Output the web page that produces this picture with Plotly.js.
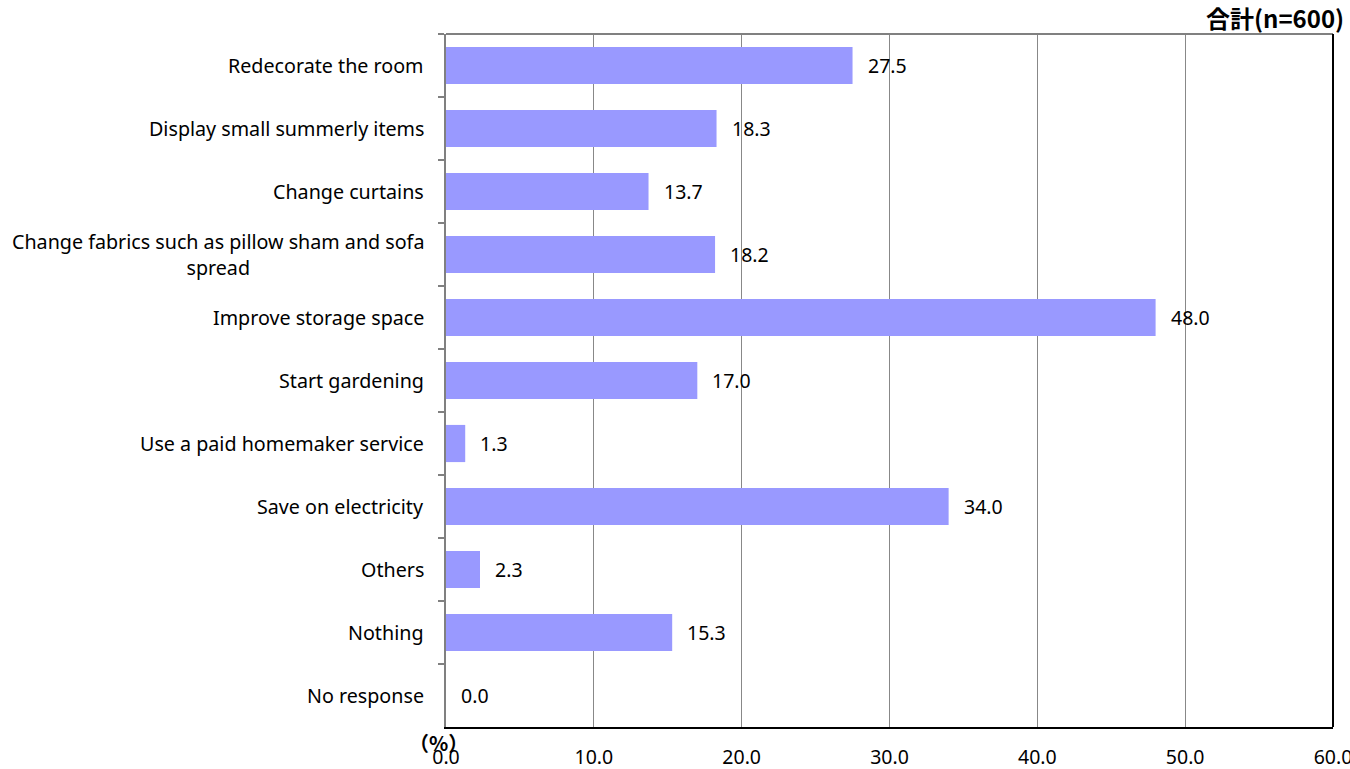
<!DOCTYPE html>
<html>
<head>
<meta charset="utf-8">
<script src="https://cdn.plot.ly/plotly-3.0.1.min.js"></script>
<style>html,body{margin:0;padding:0;background:#fff;}#chart{width:1350px;height:769px;}</style>
</head>
<body>
<div id="chart"></div>
<script>
const categories = [
  "Redecorate the room",
  "Display small summerly items",
  "Change curtains",
  "Change fabrics such as pillow sham and sofa<br>spread",
  "Improve storage space",
  "Start gardening",
  "Use a paid homemaker service",
  "Save on electricity",
  "Others",
  "Nothing",
  "No response"
];
const values = [27.5, 18.3, 13.7, 18.2, 48.0, 17.0, 1.3, 34.0, 2.3, 15.3, 0.0];
const tickVals = [0, 10, 20, 30, 40, 50, 60];
const tickText = ["0.0", "10.0", "20.0", "30.0", "40.0", "50.0", "60.0"];

const FONT = "Noto Sans, sans-serif";

const trace = {
  type: "bar",
  orientation: "h",
  y: categories,
  x: values,
  marker: {color: "#9999FF", line: {width: 0}},
  hoverinfo: "none"
};

const annotations = [];
values.forEach((v, i) => {
  annotations.push({
    x: v, y: categories[i], xref: "x", yref: "y",
    text: v.toFixed(1), showarrow: false,
    xanchor: "left", xshift: 13,
    font: {family: FONT, size: 19.5, color: "#000"}
  });
  annotations.push({
    x: 0, y: categories[i], xref: "paper", yref: "y",
    text: categories[i], showarrow: false,
    xanchor: "right", xshift: -20, align: "center",
    font: {family: FONT, size: 19.7, color: "#000"}
  });
});
annotations.push({
  x: 1, y: 1, xref: "paper", yref: "paper", xanchor: "right", yanchor: "bottom",
  xshift: 13, yshift: -3,
  text: "<b>合計(n=600)</b>", showarrow: false,
  font: {family: "Noto Sans CJK JP, Noto Sans, sans-serif", size: 24, color: "#000"}
});
annotations.push({
  x: 0, y: 0, xref: "paper", yref: "paper", xanchor: "center", yanchor: "top",
  xshift: -8, yshift: 1,
  text: "<b>（%）</b>", showarrow: false,
  font: {family: "Noto Sans CJK JP, Noto Sans, sans-serif", size: 20, color: "#000"}
});

const layout = {
  width: 1350, height: 769,
  margin: {l: 446, r: 17, t: 34, b: 42, pad: 0},
  paper_bgcolor: "#fff", plot_bgcolor: "#fff",
  showlegend: false,
  bargap: 0.41,
  xaxis: {
    range: [0, 60], tickvals: tickVals, ticktext: tickText,
    showgrid: true, gridcolor: "#888", gridwidth: 1,
    zeroline: false, showline: true, linecolor: "#000", linewidth: 2,
    ticks: "", ticklabelstandoff: 12, ticklabeloverflow: "allow",
    tickfont: {family: FONT, size: 19.5, color: "#000"},
    fixedrange: true
  },
  yaxis: {
    type: "category", autorange: "reversed",
    showticklabels: false, showgrid: false, zeroline: false,
    showline: true, linecolor: "#808080", linewidth: 2,
    ticks: "outside", tickson: "boundaries", ticklen: 6, tickcolor: "#808080", tickwidth: 2,
    fixedrange: true
  },
  shapes: [
    {type: "line", xref: "paper", yref: "paper", x0: 0, x1: 1, y0: 1, y1: 1, line: {color: "#808080", width: 2}},
    {type: "line", xref: "paper", yref: "paper", x0: 1, x1: 1, y0: 0, y1: 1, line: {color: "#000", width: 2}}
  ],
  annotations: annotations
};

Plotly.newPlot("chart", [trace], layout, {displayModeBar: false, staticPlot: true});
</script>
</body>
</html>
